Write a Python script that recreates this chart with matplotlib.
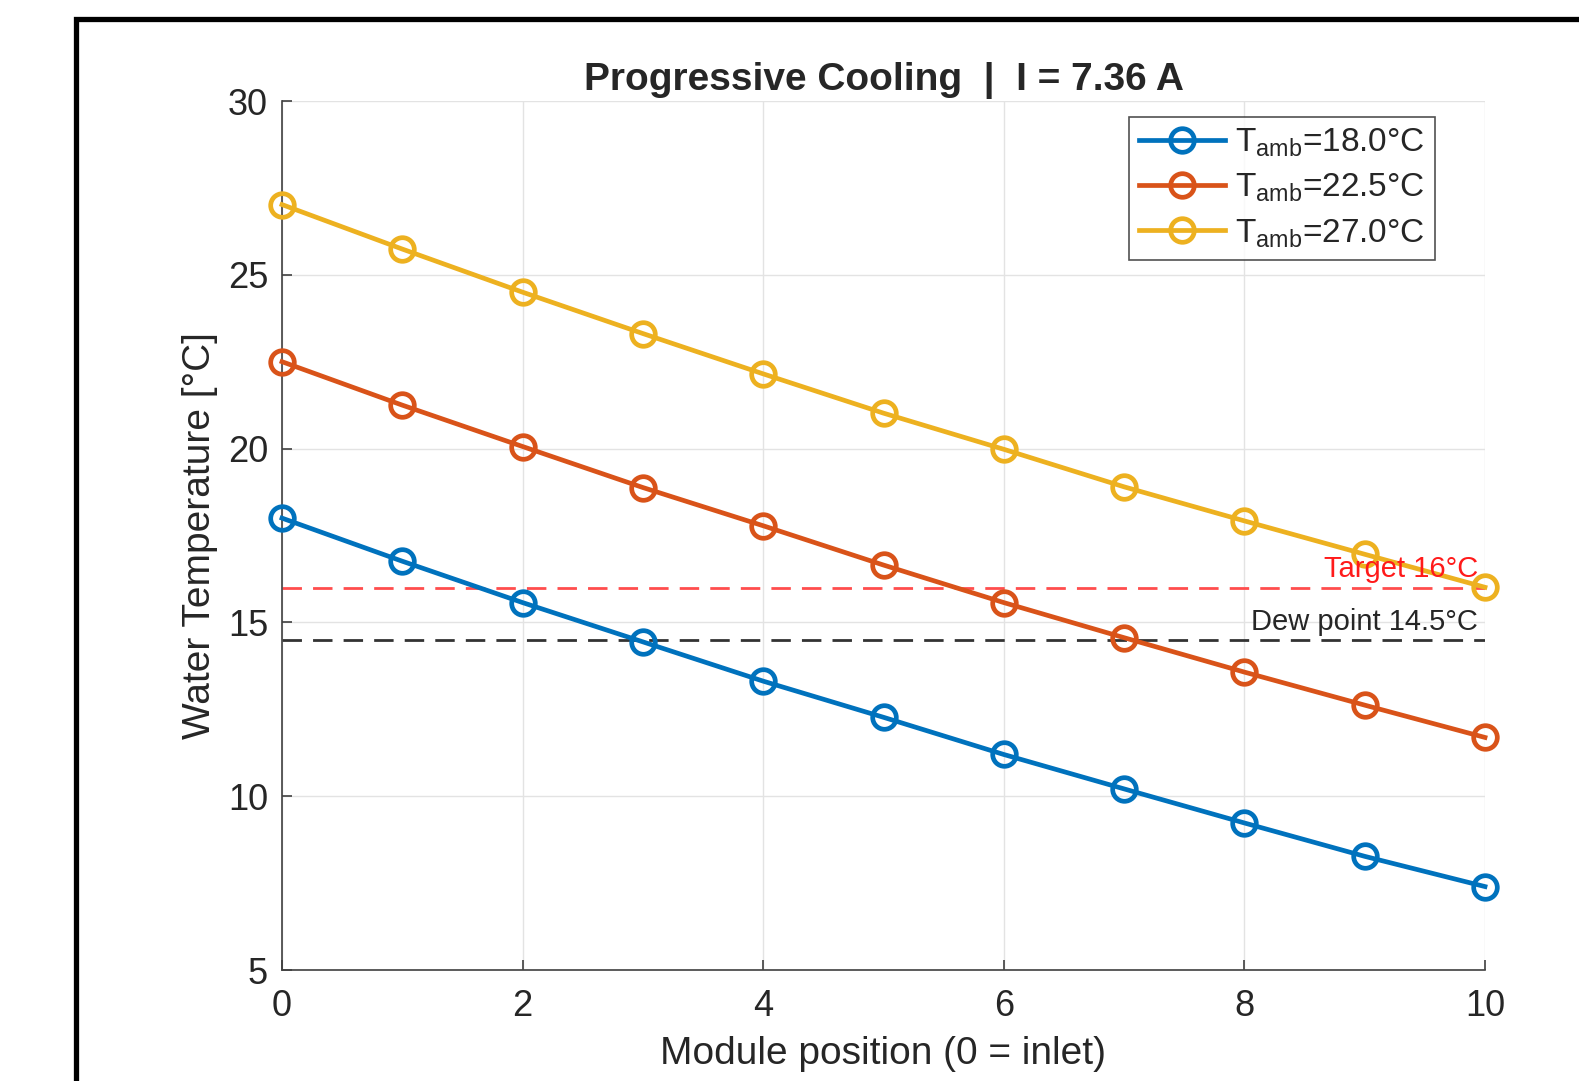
import numpy as np
import matplotlib.pyplot as plt
from matplotlib.patches import Rectangle

plt.rcParams['font.family'] = ['Liberation Sans', 'DejaVu Sans']
plt.rcParams['mathtext.fontset'] = 'custom'
plt.rcParams['mathtext.rm'] = 'Liberation Sans'
plt.rcParams['mathtext.it'] = 'Liberation Sans:italic'

# data
positions = np.arange(0, 11)
t_amb_labels = ['18.0', '22.5', '27.0']
temp_18 = [18.0, 16.76, 15.57, 14.44, 13.31, 12.27, 11.20, 10.21, 9.23, 8.27, 7.40]
temp_225 = [22.50, 21.25, 20.06, 18.88, 17.78, 16.65, 15.57, 14.56, 13.57, 12.62, 11.69]
temp_27 = [27.02, 25.74, 24.50, 23.31, 22.15, 21.02, 19.98, 18.90, 17.92, 16.96, 16.01]
target_temp = 16.0
dew_point = 14.5
current = 7.36

colors = ['#0072BD', '#D95319', '#EDB120']
txt = '#262626'

fig = plt.figure(figsize=(15.79, 10.81), dpi=100)
ax = fig.add_axes([282 / 1579, 1 - 970 / 1081, 1203 / 1579, 869 / 1081])

# screenshot frame
fig.patches.append(Rectangle((75.5 / 1579, -0.2), 2.0, 1.2 - 18.5 / 1081,
                             transform=fig.transFigure, fill=False,
                             edgecolor='black', linewidth=3.8, zorder=0))

for series, lab, c in zip([temp_18, temp_225, temp_27], t_amb_labels, colors):
    ax.plot(positions, series, '-o', color=c, lw=3.4, markersize=17,
            markeredgewidth=3.4, markerfacecolor='none', clip_on=False,
            label=r'T$_{\mathrm{amb}}$=' + lab + '°C', zorder=3)

ax.plot([0, 10], [target_temp, target_temp], color='#ff4d4d', lw=2,
        dashes=(7, 4), zorder=2)
ax.plot([0, 10], [dew_point, dew_point], color='#333333', lw=2,
        dashes=(7, 4), zorder=2)
ax.text(9.94, target_temp + 0.12, 'Target 16°C', color='#ff1a1a',
        fontsize=21, ha='right', va='bottom')
ax.text(9.94, dew_point + 0.12, 'Dew point 14.5°C', color=txt,
        fontsize=21, ha='right', va='bottom')

ax.set_xlim(0, 10)
ax.set_ylim(5, 30)
ax.set_xticks(np.arange(0, 11, 2))
ax.set_yticks(np.arange(5, 31, 5))
ax.grid(True, color='#e3e3e3', lw=1)
ax.set_axisbelow(True)
for s in ['top', 'right']:
    ax.spines[s].set_visible(False)
for s in ['left', 'bottom']:
    ax.spines[s].set_color('#404040')
    ax.spines[s].set_linewidth(1.2)
ax.tick_params(direction='in', length=7, width=1.2, colors='#404040',
               labelsize=26, labelcolor=txt)
ax.tick_params(axis='x', pad=14)
ax.tick_params(axis='y', pad=10)

ax.set_xlabel('Module position (0 = inlet)', fontsize=28, color=txt, labelpad=8)
ax.set_ylabel('Water Temperature [°C]', fontsize=28, color=txt, labelpad=7)
ax.set_title('Progressive Cooling  |  I = %.2f A' % current, fontsize=28,
             fontweight='bold', color=txt, pad=8)

leg = ax.legend(loc='upper right', bbox_to_anchor=(0.9584, 0.9816),
                borderaxespad=0, fontsize=24, fancybox=False,
                handlelength=2.6, labelspacing=0.38, borderpad=0.3,
                handletextpad=0.3)
leg.get_frame().set_edgecolor(txt)
leg.get_frame().set_linewidth(1.2)
for t in leg.get_texts():
    t.set_color(txt)

fig.savefig('out.png', dpi=100)
